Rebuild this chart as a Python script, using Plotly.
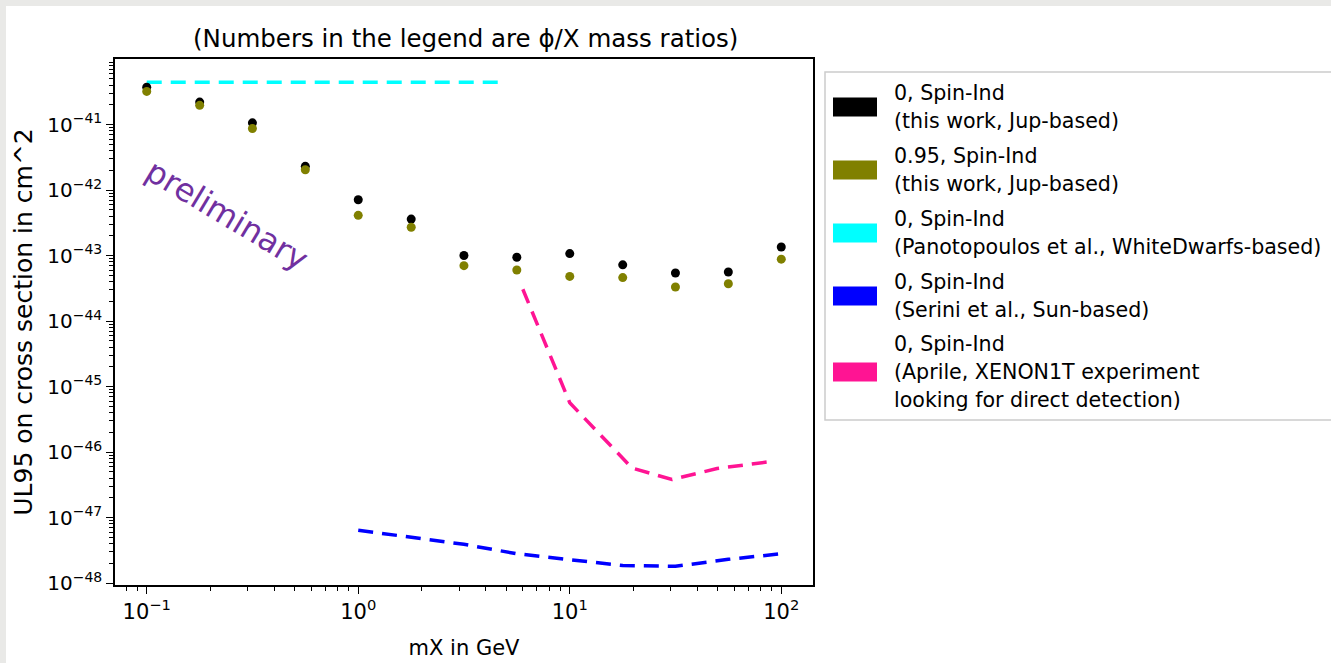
import plotly.graph_objects as go

# ---- data ----
mx = [0.1, 0.178, 0.316, 0.562, 1.0, 1.78, 3.16, 5.62, 10.0, 17.8, 31.6, 56.2, 100.0]
ul_ratio0 = [3.7e-41, 2.2e-41, 1.06e-41, 2.3e-42, 7.1e-43, 3.6e-43, 1.0e-43, 9.4e-44,
             1.07e-43, 7.2e-44, 5.4e-44, 5.6e-44, 1.35e-43]
ul_ratio095 = [3.2e-41, 1.96e-41, 8.7e-42, 2.04e-42, 4.1e-43, 2.7e-43, 7.0e-44, 6.0e-44,
               4.8e-44, 4.6e-44, 3.3e-44, 3.7e-44, 8.8e-44]

wd_x = [0.1, 5.0]
wd_y = [4.4e-41, 4.4e-41]

sun_x = [1.0, 3.16, 5.62, 10.0, 17.8, 31.6, 56.2, 100.0]
sun_y = [6.4e-48, 3.9e-48, 2.8e-48, 2.3e-48, 1.85e-48, 1.8e-48, 2.3e-48, 2.8e-48]

xenon_x = [6.0, 10.0, 19.7, 30.4, 49.7, 93.5]
xenon_y = [3.05e-44, 5.65e-46, 5.7e-47, 3.8e-47, 5.6e-47, 7.3e-47]

legend_colors = ["black", "#808000", "#00ffff", "#0000ff", "#ff1493"]
legend_lines = [
    ["0, Spin-Ind", "(this work, Jup-based)"],
    ["0.95, Spin-Ind", "(this work, Jup-based)"],
    ["0, Spin-Ind", "(Panotopoulos et al., WhiteDwarfs-based)"],
    ["0, Spin-Ind", "(Serini et al., Sun-based)"],
    ["0, Spin-Ind", "(Aprile, XENON1T experiment", "looking for direct detection)"],
]
y_tick_vals = [1e-41, 1e-42, 1e-43, 1e-44, 1e-45, 1e-46, 1e-47, 1e-48]
y_tick_text = ["10<sup>\u221241</sup>", "10<sup>\u221242</sup>", "10<sup>\u221243</sup>",
               "10<sup>\u221244</sup>", "10<sup>\u221245</sup>", "10<sup>\u221246</sup>",
               "10<sup>\u221247</sup>", "10<sup>\u221248</sup>"]
x_tick_vals = [0.1, 1, 10, 100]
x_tick_text = ["10<sup>\u22121</sup>", "10<sup>0</sup>", "10<sup>1</sup>", "10<sup>2</sup>"]

x_minor = [k * 10.0 ** e for e in range(-2, 3) for k in range(2, 10)]
y_minor = [k * 10.0 ** e for e in range(-49, -39) for k in range(2, 10)]

FONT = "DejaVu Sans"
W, H = 1331, 663
L, R, T, B = 115, 1331 - 813, 59, 663 - 585
PW, PH = W - L - R, H - T - B


def px2x(px):
    return (px - L) / PW


def py2y(py):
    return 1 - (py - T) / PH


fig = go.Figure()
dash = "15px,9px"
fig.add_trace(go.Scatter(x=wd_x, y=wd_y, mode="lines",
                         line=dict(color=legend_colors[2], width=3.5, dash=dash)))
fig.add_trace(go.Scatter(x=sun_x, y=sun_y, mode="lines",
                         line=dict(color=legend_colors[3], width=3.5, dash=dash)))
fig.add_trace(go.Scatter(x=xenon_x, y=xenon_y, mode="lines",
                         line=dict(color=legend_colors[4], width=3.5, dash=dash)))
fig.add_trace(go.Scatter(x=mx, y=ul_ratio0, mode="markers",
                         marker=dict(color=legend_colors[0], size=9)))
fig.add_trace(go.Scatter(x=mx, y=ul_ratio095, mode="markers",
                         marker=dict(color=legend_colors[1], size=9)))

shapes = []
annotations = []
# background: grey photo border + white sheet
shapes.append(dict(type="rect", xref="paper", yref="paper", layer="below",
                   x0=px2x(6), x1=px2x(1400), y0=py2y(700), y1=py2y(6),
                   fillcolor="white", line=dict(width=0)))

# legend box
shapes.append(dict(type="rect", xref="paper", yref="paper",
                   x0=px2x(825), x1=px2x(1340), y0=py2y(420), y1=py2y(72),
                   fillcolor="white", line=dict(color="#cccccc", width=1.5)))
patch_centers = [107, 170, 233, 296, 372]
line_gap = 28
for col, lines, cy in zip(legend_colors, legend_lines, patch_centers):
    shapes.append(dict(type="rect", xref="paper", yref="paper",
                       x0=px2x(833), x1=px2x(877), y0=py2y(cy + 9.5), y1=py2y(cy - 9.5),
                       fillcolor=col, line=dict(width=0)))
    n = len(lines)
    start = cy - (n - 1) * line_gap / 2 if n == 2 else cy - line_gap
    for i, t in enumerate(lines):
        annotations.append(dict(xref="paper", yref="paper", x=px2x(892), y=py2y(start + i * line_gap),
                                text=t, showarrow=False, xanchor="left", yanchor="middle",
                                font=dict(family=FONT, size=20.6, color="black")))

# title
annotations.append(dict(xref="paper", yref="paper", x=px2x(465), y=py2y(38),
                        text="(Numbers in the legend are \u03d5/X mass ratios)", showarrow=False,
                        xanchor="center", yanchor="middle",
                        font=dict(family=FONT, size=24.5, color="black")))
# watermark
annotations.append(dict(xref="paper", yref="paper", x=px2x(227), y=py2y(215),
                        text="preliminary", showarrow=False, textangle=31,
                        xanchor="center", yanchor="middle",
                        font=dict(family=FONT, size=32, color="#7030a0")))

fig.update_layout(
    width=W, height=H,
    margin=dict(l=L, r=R, t=T, b=B, autoexpand=False),
    paper_bgcolor="#e9e9e7", plot_bgcolor="white",
    showlegend=False,
    shapes=shapes, annotations=annotations,
    font=dict(family=FONT, size=20, color="black"),
)
fig.update_xaxes(type="log", range=[-1.15, 2.15], automargin=False,
                 tickmode="array", tickvals=x_tick_vals, ticktext=x_tick_text,
                 ticks="outside", ticklen=7, tickwidth=1.3, tickcolor="black",
                 minor=dict(tickmode="array", tickvals=x_minor, ticks="outside", ticklen=4,
                            tickcolor="black", tickwidth=1, showgrid=False),
                 showgrid=False, zeroline=False,
                 showline=True, linecolor="black", linewidth=1.5, mirror=True,
                 tickfont=dict(family=FONT, size=21),
                 title=dict(text="mX in GeV", font=dict(family=FONT, size=21), standoff=17))
fig.update_yaxes(type="log", range=[-48.03, -40.0], automargin=False,
                 tickmode="array", tickvals=y_tick_vals, ticktext=y_tick_text,
                 ticks="outside", ticklen=7, tickwidth=1.3, tickcolor="black",
                 minor=dict(tickmode="array", tickvals=y_minor, ticks="outside", ticklen=4,
                            tickcolor="black", tickwidth=1, showgrid=False),
                 showgrid=False, zeroline=False,
                 showline=True, linecolor="black", linewidth=1.5, mirror=True,
                 tickfont=dict(family=FONT, size=20),
                 title=dict(text="UL95 on cross section in cm^2", font=dict(family=FONT, size=25),
                            standoff=8))

fig.write_html("out.html")
